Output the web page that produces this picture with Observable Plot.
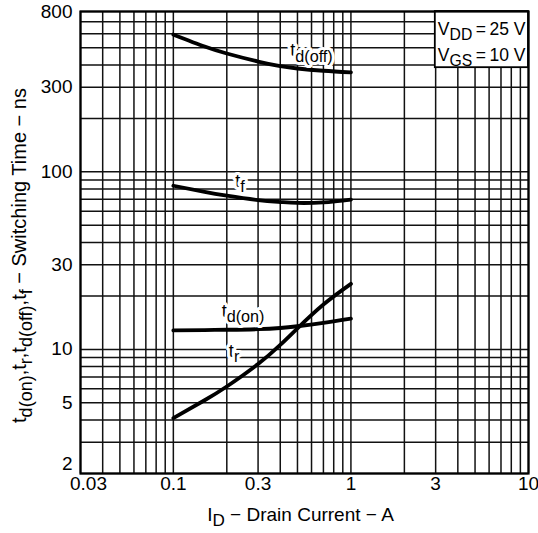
<!DOCTYPE html>
<html><head><meta charset="utf-8">
<script src="https://cdn.jsdelivr.net/npm/d3@7"></script>
<script src="https://cdn.jsdelivr.net/npm/@observablehq/plot@0.6"></script>
<style>body{margin:0;background:#fff} svg{font-family:"Liberation Sans",Arial,sans-serif}</style>
</head><body><div id="chart"></div>
<script>
// ---- data ----
const currents = [0.1, 0.15, 0.2, 0.3, 0.4, 0.5, 0.7, 1];
const tdOff = [593, 508, 464, 418, 394, 382, 371, 363];
const tFall = [83.5, 77.1, 73.4, 69.3, 67.6, 66.8, 67.3, 69.8];
const tdOn = [12.8, 12.85, 12.9, 13.0, 13.2, 13.5, 14.1, 14.9];
const tRise = [4.1, 5.17, 6.18, 8.27, 10.6, 13.15, 17.9, 23.4];
const seriesNames = ["t_{d(off)}", "t_{f}", "t_{d(on)}", "t_{r}"];
const xTickLabels = [0.03, 0.1, 0.3, 1, 3, 10];
const yTickLabels = [5, 10, 30, 100, 300, 800];
const yBottomLabel = [2];
const xGrid = [0.03,0.04,0.05,0.06,0.07,0.08,0.09,0.1,0.2,0.3,0.4,0.5,0.6,0.7,0.8,0.9,1,2,3,4,5,6,7,8,9,10];
const yGrid = [2,3,4,5,6,7,8,9,10,20,30,40,50,60,70,80,90,100,200,300,400,500,600,700,800];
const legendLines = ["V_{DD}\u2009=\u200925 V", "V_{GS}\u2009=\u200910 V"];
const xTitle = "I_{D} − Drain Current − A";
const yTitle = "t_{d(on)},t_{r},t_{d(off)},t_{f} − Switching Time − ns";

const seriesValues = [tdOff, tFall, tdOn, tRise];
const rows = seriesValues.flatMap((vals, s) => vals.map((v, i) => ({series: seriesNames[s], id: currents[i], t: v})));

// label placement styles (anchored to a data point of each curve)
const labelStyle = [
  {i: 5, dx: 14, dy: -18},
  {i: 3, dx: -18, dy: -19},
  {i: 3, dx: -15, dy: -18},
  {i: 3, dx: -24, dy: -13}
];

const fontTick = 19;
const labelMarks = labelStyle.map((st, s) => Plot.text([{id: currents[st.i], t: seriesValues[s][st.i], name: seriesNames[s]}], {
  x: "id", y: "t", text: "name", dx: st.dx, dy: st.dy, fontSize: 18, fill: "black",
  stroke: "white", strokeWidth: 6, paintOrder: "stroke", textAnchor: "middle"
}));

const plot = Plot.plot({
  width: 538, height: 533,
  marginLeft: 80, marginRight: 10, marginTop: 11, marginBottom: 60,
  x: {type: "log", domain: [0.03, 10], axis: null},
  y: {type: "log", domain: [2, 800], axis: null},
  marks: [
    Plot.ruleX(xGrid, {x: d => d, stroke: "#111", strokeWidth: 1.5}),
    Plot.ruleY(yGrid, {y: d => d, stroke: "#111", strokeWidth: 1.5}),
    Plot.line(rows, {x: "id", y: "t", z: "series", stroke: "black", strokeWidth: 3.8, curve: "natural"}),
    ...labelMarks,
    Plot.text(legendLines.slice(0,1), {text: d => d, frameAnchor: "top-right", textAnchor: "end", dx: -3, dy: 11, fontSize: 17.5}),
    Plot.text(legendLines.slice(1), {text: d => d, frameAnchor: "top-right", textAnchor: "end", dx: -3, dy: 37, fontSize: 17.5}),
    Plot.frame({stroke: "black", strokeWidth: 2.2}),
    Plot.text(xTickLabels.slice(1), {x: d => d, text: d => String(d), frameAnchor: "bottom", dy: 16, fontSize: fontTick}),
    Plot.text(xTickLabels.slice(0,1), {x: d => d, text: d => String(d), frameAnchor: "bottom", dy: 16, dx: 8, fontSize: fontTick}),
    Plot.text(yTickLabels, {y: d => d, text: d => String(d), frameAnchor: "left", textAnchor: "end", dx: -8, fontSize: fontTick}),
    Plot.text(yBottomLabel, {y: d => d, text: d => String(d), frameAnchor: "left", textAnchor: "end", dx: -8, dy: -10, fontSize: fontTick}),
    Plot.text([xTitle], {text: d => d, frameAnchor: "bottom", textAnchor: "middle", dy: 47, dx: -4, fontSize: 19}),
    Plot.text([yTitle], {text: d => d, frameAnchor: "left", textAnchor: "middle", rotate: -90, dx: -61, dy: 13, fontSize: 20})
  ]
});
document.getElementById("chart").appendChild(plot);

// legend text elements (found by content, before subscripts are applied)
const legendEls = [...plot.querySelectorAll("text")].filter(el => legendLines.includes(el.textContent));

// subscripts
plot.querySelectorAll("text").forEach(el => {
  const s = el.textContent;
  if (!s.includes("_{")) return;
  const fs = parseFloat(getComputedStyle(el).fontSize) || 16;
  const parts = s.split(/(_\{[^}]*\})/);
  while (el.firstChild) el.removeChild(el.firstChild);
  let shifted = false;
  const off = fs * 0.3;
  parts.forEach(p => {
    if (!p) return;
    const ts = document.createElementNS("http://www.w3.org/2000/svg", "tspan");
    if (p.startsWith("_{")) {
      ts.textContent = p.slice(2, -1);
      ts.setAttribute("font-size", fs * 0.9);
      if (!shifted) { ts.setAttribute("dy", off); shifted = true; }
    } else {
      ts.textContent = p;
      if (shifted) { ts.setAttribute("dy", -off); shifted = false; }
    }
    el.appendChild(ts);
  });
});

// legend box
if (legendEls.length) {
  let x0 = Infinity, y1 = -Infinity;
  legendEls.forEach(el => {
    const b = el.getBBox();
    const m = el.getCTM();
    const pt = plot.createSVGPoint();
    pt.x = b.x; pt.y = b.y + b.height;
    const p = pt.matrixTransform(m);
    x0 = Math.min(x0, p.x); y1 = Math.max(y1, p.y);
  });
  const rect = document.createElementNS("http://www.w3.org/2000/svg", "rect");
  const right = 538 - 10, top = 11;
  rect.setAttribute("x", x0 - 3); rect.setAttribute("y", top);
  rect.setAttribute("width", right - (x0 - 3)); rect.setAttribute("height", y1 - 2 - top);
  rect.setAttribute("fill", "white"); rect.setAttribute("stroke", "black"); rect.setAttribute("stroke-width", 1.8);
  const g = legendEls[0].closest("g");
  g.parentNode.insertBefore(rect, g);
}
</script></body></html>
